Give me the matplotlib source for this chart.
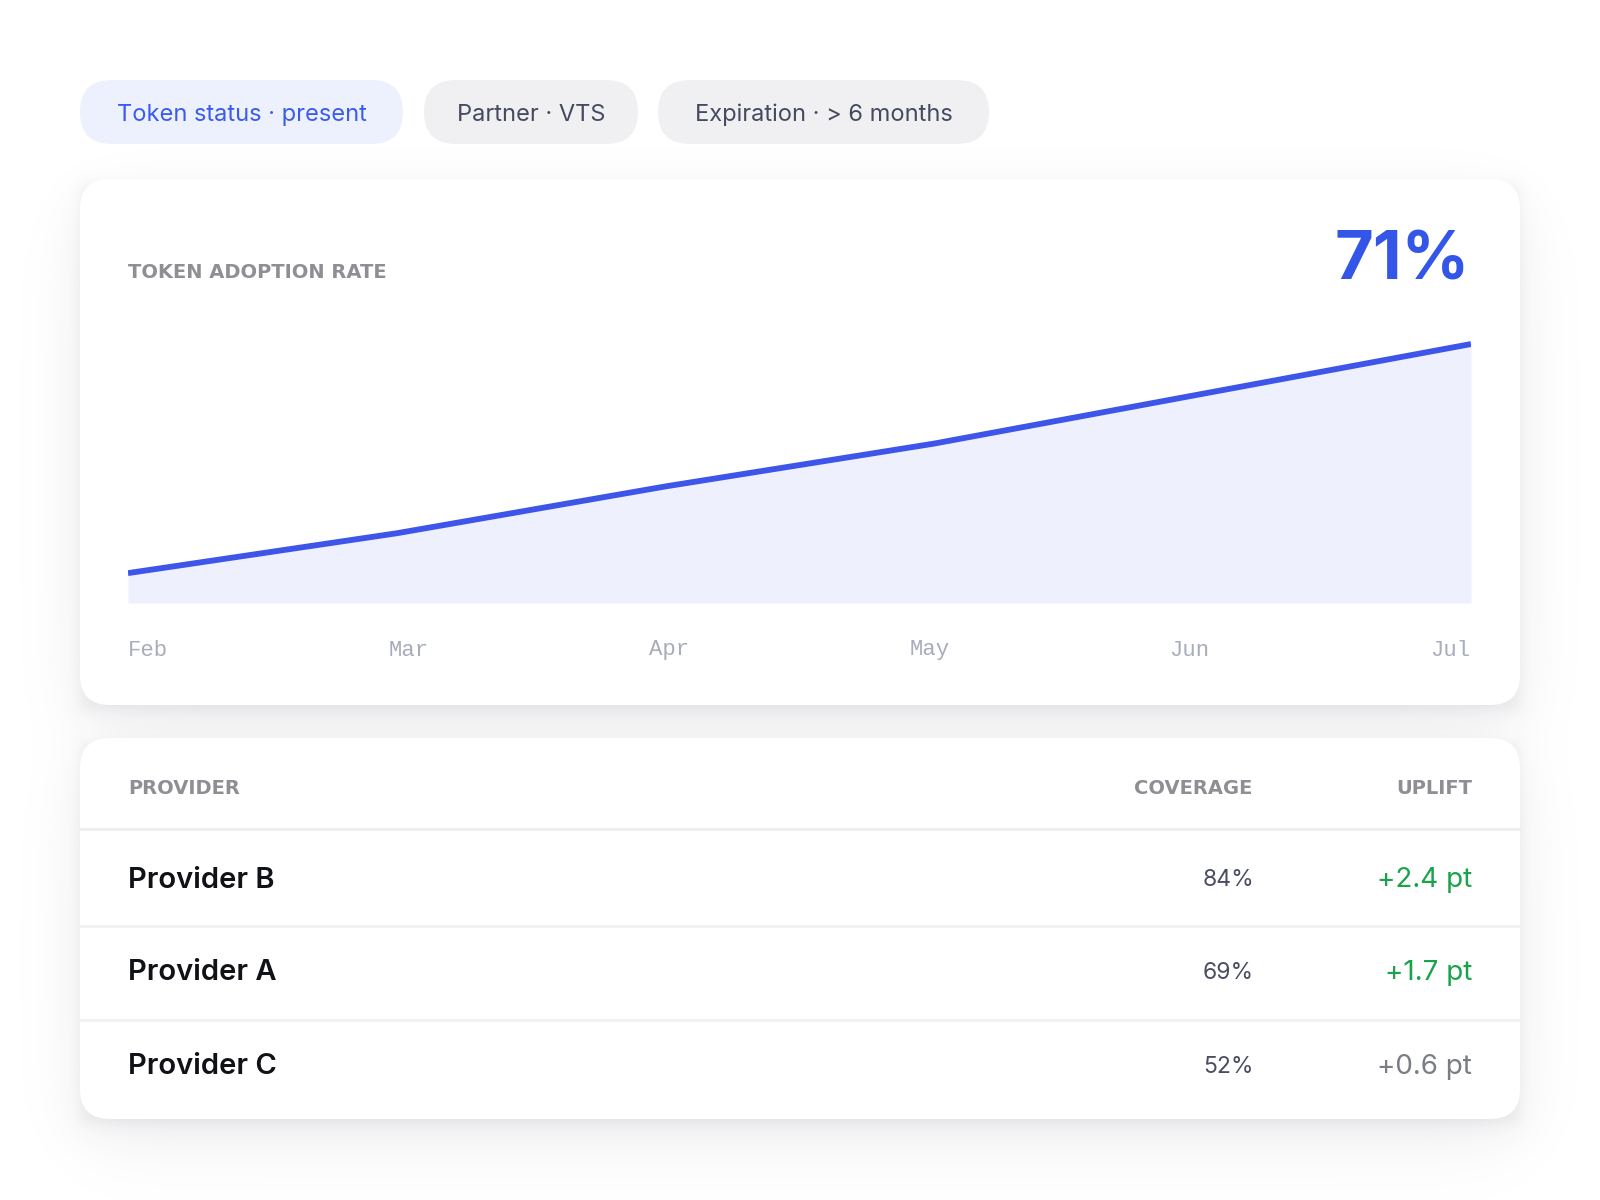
import math
import matplotlib.pyplot as plt
from matplotlib.patches import FancyBboxPatch
import numpy as np

# data
months = ["Feb", "Mar", "Apr", "May", "Jun", "Jul"]
adoption = [48, 52, 56.7, 61, 66, 71]
headline = "71%"

chips = ["Token status · present", "Partner · VTS", "Expiration · > 6 months"]

providers = ["Provider B", "Provider A", "Provider C"]
coverage = ["84%", "69%", "52%"]
uplift = ["+2.4 pt", "+1.7 pt", "+0.6 pt"]
uplift_colors = ["#1AA34A", "#1AA34A", "#7A7C86"]

SANS = ["Inter", "DejaVu Sans"]
WIDE = ["DejaVu Sans"]
MONO = ["Liberation Mono", "DejaVu Sans Mono"]

W, H = 1600, 1200
fig = plt.figure(figsize=(16, 12), dpi=100)
fig.patch.set_facecolor("white")
bg = fig.add_axes([0, 0, 1, 1])
bg.axis("off")

card_boxes = [(80, 179, 1520, 705), (80, 738, 1520, 1119)]

# blurred drop shadow for the cards, built as an alpha image
erf = np.vectorize(math.erf)
px = np.arange(W) + 0.5
py = np.arange(H) + 0.5


def band(v, a, b, s):
    return 0.5 * (erf((v - a) / s) - erf((v - b) / s))


shade = np.zeros((H, W))
for (x0, y0, x1, y1) in card_boxes:
    for s, off, amp, grow in [(8, 5, 0.05, 0), (30, 16, 0.06, -4), (70, 30, 0.05, -10)]:
        fx = band(px, x0 - grow, x1 + grow, s)
        fy = band(py, y0 + off - grow, y1 + off + grow, s)
        shade += amp * np.outer(fy, fx)
shade = np.clip(shade, 0, 1)
rgba = np.zeros((H, W, 4))
rgba[..., 0] = 0x22 / 255
rgba[..., 1] = 0x26 / 255
rgba[..., 2] = 0x3a / 255
rgba[..., 3] = shade
bg.imshow(rgba, extent=[0, W, H, 0], interpolation="nearest", zorder=0.5)
bg.set_xlim(0, W)
bg.set_ylim(H, 0)
bg.set_aspect("auto")


def rbox(x0, y0, x1, y1, r, color, alpha=1.0, z=1):
    p = FancyBboxPatch((x0 + r, y0 + r), (x1 - x0) - 2 * r, (y1 - y0) - 2 * r,
                       boxstyle="round,pad=%f" % r, linewidth=0,
                       facecolor=color, alpha=alpha, zorder=z)
    bg.add_patch(p)


for (x0, y0, x1, y1) in card_boxes:
    rbox(x0, y0, x1, y1, 30, "white", z=2)

# filter chips
chip_spans = [(80, 403), (424, 638), (658, 989)]
for i, (lbl, (cx0, cx1)) in enumerate(zip(chips, chip_spans)):
    fc = "#EDF1FE" if i == 0 else "#F0F0F2"
    tc = "#3B5BEA" if i == 0 else "#454A5E"
    rbox(cx0, 80, cx1, 144, 32, fc, z=2)
    bg.text((cx0 + cx1) / 2, 115, lbl, ha="center", va="center",
            fontsize=17, color=tc, family=SANS, zorder=3)

# chart card
bg.text(128, 273, "TOKEN ADOPTION RATE", ha="left", va="center",
        fontsize=14, fontweight="bold", color="#8E8F95", family=WIDE, zorder=3)
bg.text(1470, 262, headline, ha="right", va="center", fontsize=48,
        fontweight="bold", color="#3355E8", family=SANS, zorder=3)

# line chart
left, right, bottom, top = 128, 1471, 603, 300
ax = fig.add_axes([left / W, (H - bottom) / H,
                   (right - left) / W, (bottom - top) / H])
ax.set_zorder(5)
ax.patch.set_alpha(0)
x = np.arange(len(months))
base = 45
ax.fill_between(x, adoption, base, color="#EEF0FD", linewidth=0)
ax.plot(x, adoption, color="#3D55E8", linewidth=4.2, solid_capstyle="butt",
        solid_joinstyle="round")
ax.set_xlim(0, len(months) - 1)
ax.set_ylim(base, base + (bottom - top) / 9.96)
ax.axis("off")

# month labels spread edge to edge
lw = 41
for i, m in enumerate(months):
    lx = left + i * (right - left - lw) / (len(months) - 1)
    bg.text(lx, 650, m, ha="left", va="center", fontsize=16,
            color="#A8ACBD", family=MONO, zorder=3)

# table card
for lbl, hx, ha in [("PROVIDER", 128, "left"), ("COVERAGE", 1252, "right"),
                    ("UPLIFT", 1472, "right")]:
    bg.text(hx, 789, lbl, ha=ha, va="center", fontsize=14,
            fontweight="bold", color="#8E8F95", family=WIDE, zorder=3)

bg.plot([80, 1520], [829, 829], color="#EDEDF0", linewidth=2, zorder=3)
row_y = [880, 973, 1067]
for i, yy in enumerate(row_y):
    if i > 0:
        ly = (row_y[i - 1] + yy) / 2 - 0.5
        bg.plot([80, 1520], [ly, ly], color="#F1F1F3", linewidth=2, zorder=3)
    bg.text(128, yy, providers[i], ha="left", va="center", fontsize=21,
            fontweight="semibold", color="#111217", family=SANS, zorder=3)
    bg.text(1254, yy, coverage[i], ha="right", va="center", fontsize=16.5,
            color="#4A4D62", family=SANS, zorder=3)
    bg.text(1472, yy, uplift[i], ha="right", va="center", fontsize=20,
            color=uplift_colors[i], family=SANS, zorder=3)

fig.savefig("out.png", dpi=100, facecolor="white")
